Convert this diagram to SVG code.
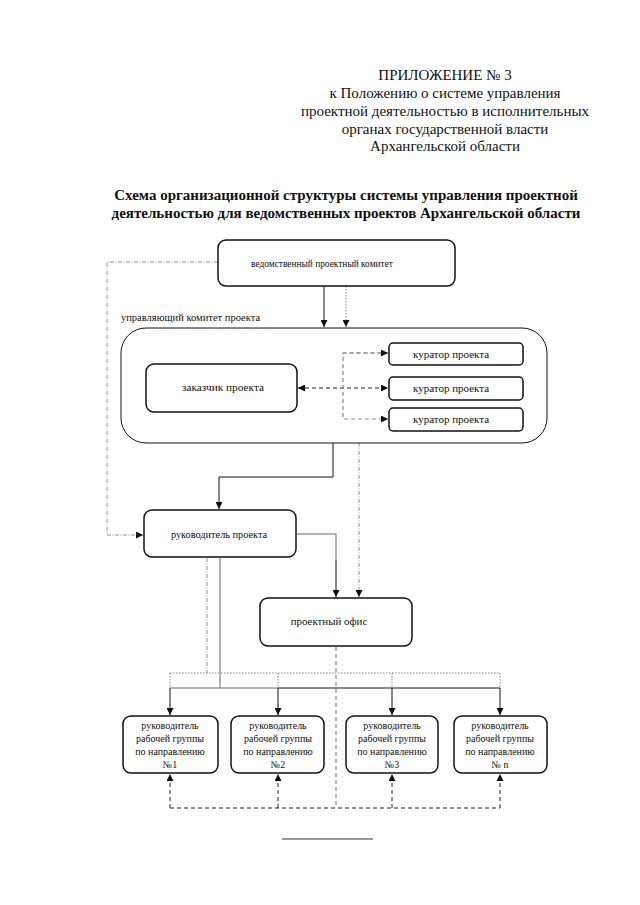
<svg xmlns="http://www.w3.org/2000/svg" width="640" height="905" viewBox="0 0 640 905">
<defs>
<style>
text{font-family:"Liberation Serif","Times New Roman",serif;fill:#111}
.hd{font-size:15px;text-anchor:middle}
.ti{font-size:15px;font-weight:bold;text-anchor:middle}
.nt{font-size:10.5px;text-anchor:middle}
.g{font-size:10px;text-anchor:middle}
.box{fill:#fff;stroke:#111;stroke-width:1.5}
.big{fill:none;stroke:#111;stroke-width:1}
.sol{fill:none;stroke:#111;stroke-width:1}
.solg{fill:none;stroke:#999;stroke-width:1.5}
.dd{fill:none;stroke:#777;stroke-width:0.8;stroke-dasharray:4 1.5 1 1.5}
.dot{fill:none;stroke:#666;stroke-width:0.8;stroke-dasharray:1.5 1.5}
.dsh{fill:none;stroke:#888;stroke-width:1.2;stroke-dasharray:4 3}
.dshk{fill:none;stroke:#222;stroke-width:1;stroke-dasharray:4 3}
</style>
<marker id="ar" viewBox="0 0 8 8" refX="8" refY="4" markerWidth="7" markerHeight="7" markerUnits="userSpaceOnUse" orient="auto-start-reverse">
<path d="M0,0 L8,4 L0,8 z" fill="#111"/>
</marker>
</defs>
<rect width="640" height="905" fill="#fff"/>

<g id="header">
<text class="hd" x="445" y="80">ПРИЛОЖЕНИЕ № 3</text>
<text class="hd" x="445" y="98">к Положению о системе управления</text>
<text class="hd" x="445" y="116">проектной деятельностью в исполнительных</text>
<text class="hd" x="445" y="134">органах государственной власти</text>
<text class="hd" x="445" y="151">Архангельской области</text>
</g>
<g id="title">
<text class="ti" x="346" y="200">Схема организационной структуры системы управления проектной</text>
<text class="ti" x="346" y="218">деятельностью для ведомственных проектов Архангельской области</text>
</g>

<g id="connectors">
<path class="dd" d="M218,262 H107 V535 H143" marker-end="url(#ar)"/>
<path class="sol" d="M324,286 V327" marker-end="url(#ar)"/>
<path class="dot" d="M346,286 V327" marker-end="url(#ar)"/>
<path class="dshk" d="M298,388 H388" marker-start="url(#ar)" marker-end="url(#ar)"/>
<path class="dsh" d="M388,353 H343 V419 H388" marker-end="url(#ar)"/>
<path class="dsh" d="M343,353 H388" marker-end="url(#ar)"/>
<path class="sol" d="M333,443 V477 H219 V509" marker-end="url(#ar)"/>
<path class="dd" d="M359,443 V597" marker-end="url(#ar)"/>
<path class="solg" d="M297,534 H336 V560"/>
<path class="sol" d="M336,560 V597" marker-end="url(#ar)"/>
<path class="dsh" d="M336,647 V808"/>
<path class="dd" d="M207,558 V673"/>
<path class="dot" d="M170,673 H500 M170,673 V688 M278,673 V688 M392,673 V688 M500,673 V688"/>
<path class="solg" d="M220,558 V688 M170,688 H278"/>
<path class="sol" d="M278,688 H500"/>
<path class="sol" d="M170,688 V715" marker-end="url(#ar)"/>
<path class="sol" d="M278,688 V715" marker-end="url(#ar)"/>
<path class="sol" d="M392,688 V715" marker-end="url(#ar)"/>
<path class="sol" d="M500,688 V715" marker-end="url(#ar)"/>
<path class="dshk" d="M170,808 H500"/>
<path class="dshk" d="M170,808 V774" marker-end="url(#ar)"/>
<path class="dshk" d="M278,808 V774" marker-end="url(#ar)"/>
<path class="dshk" d="M392,808 V774" marker-end="url(#ar)"/>
<path class="dshk" d="M500,808 V774" marker-end="url(#ar)"/>
</g>

<g id="n-ved">
<rect class="box" x="218" y="240" width="237" height="46" rx="8"/>
<text class="nt" x="322" y="267" style="font-size:9.4px">ведомственный проектный комитет</text>
</g>
<g id="n-upr">
<text x="121" y="321" style="font-size:10.5px">управляющий комитет проекта</text>
<rect class="big" x="121" y="328" width="426" height="115" rx="25"/>
</g>
<g id="n-zak">
<rect class="box" x="146" y="364" width="151" height="48" rx="8"/>
<text class="nt" x="223" y="391" style="font-size:11.3px">заказчик проекта</text>
</g>
<g id="n-kur1">
<rect class="box" x="389" y="343" width="134" height="22" rx="4"/>
<text class="nt" x="451" y="358" style="font-size:11px">куратор проекта</text>
</g>
<g id="n-kur2">
<rect class="box" x="389" y="377" width="134" height="23" rx="4"/>
<text class="nt" x="451" y="392" style="font-size:11px">куратор проекта</text>
</g>
<g id="n-kur3">
<rect class="box" x="389" y="408" width="134" height="23" rx="4"/>
<text class="nt" x="451" y="423" style="font-size:11px">куратор проекта</text>
</g>
<g id="n-ruk">
<rect class="box" x="144" y="510" width="152" height="47" rx="8"/>
<text class="nt" x="219" y="538" style="font-size:10.3px">руководитель проекта</text>
</g>
<g id="n-off">
<rect class="box" x="260" y="598" width="152" height="48" rx="8"/>
<text class="nt" x="329" y="625" style="font-size:10.9px">проектный офис</text>
</g>
<g id="n-g1">
<rect class="box" x="123" y="716" width="95" height="57" rx="8"/>
<text class="g" x="170" y="729">руководитель</text>
<text class="g" x="170" y="742">рабочей группы</text>
<text class="g" x="170" y="755">по направлению</text>
<text class="g" x="170" y="768">№1</text>
</g>
<g id="n-g2">
<rect class="box" x="231" y="716" width="93" height="57" rx="8"/>
<text class="g" x="278" y="729">руководитель</text>
<text class="g" x="278" y="742">рабочей группы</text>
<text class="g" x="278" y="755">по направлению</text>
<text class="g" x="278" y="768">№2</text>
</g>
<g id="n-g3">
<rect class="box" x="346" y="716" width="92" height="57" rx="8"/>
<text class="g" x="392" y="729">руководитель</text>
<text class="g" x="392" y="742">рабочей группы</text>
<text class="g" x="392" y="755">по направлению</text>
<text class="g" x="392" y="768">№3</text>
</g>
<g id="n-gn">
<rect class="box" x="454" y="716" width="93" height="57" rx="8"/>
<text class="g" x="500" y="729">руководитель</text>
<text class="g" x="500" y="742">рабочей группы</text>
<text class="g" x="500" y="755">по направлению</text>
<text class="g" x="500" y="768">№ n</text>
</g>
<path d="M282,839 H373" stroke="#999" stroke-width="2" fill="none"/>
</svg>
